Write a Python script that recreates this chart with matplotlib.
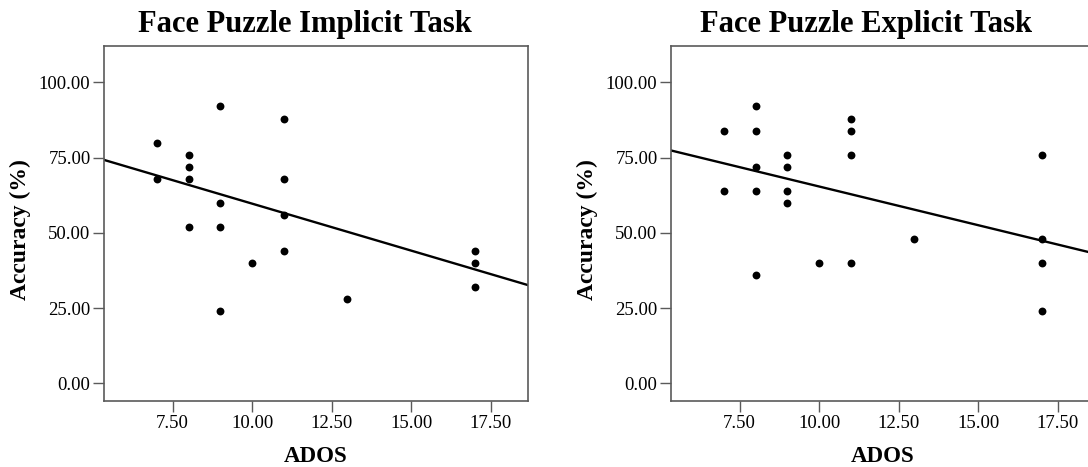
import numpy as np
import matplotlib
matplotlib.use("Agg")
import matplotlib.pyplot as plt

plt.rcParams['font.family'] = ['Liberation Serif', 'DejaVu Serif']

# ADOS score vs accuracy
ados_implicit = [7, 7, 8, 8, 8, 8, 9, 9, 9, 9, 10, 11, 11, 11, 11, 13, 17, 17, 17]
acc_implicit = [80, 68, 76, 72, 68, 52, 92, 60, 52, 24, 40, 88, 68, 56, 44, 28, 44, 40, 32]

ados_explicit = [7, 7, 8, 8, 8, 8, 8, 9, 9, 9, 9, 10, 11, 11, 11, 11, 13, 17, 17, 17, 17]
acc_explicit = [84, 64, 92, 84, 72, 64, 36, 76, 72, 64, 60, 40, 88, 84, 76, 40, 48, 76, 48, 40, 24]

# fit lines (intercept, slope) as drawn in the reference
fit_implicit = (90.9, -3.12)
fit_explicit = (91.1, -2.57)

titles = ["Face Puzzle Implicit Task", "Face Puzzle Explicit Task"]
xticks = [7.5, 10.0, 12.5, 15.0, 17.5]
yticks = [0, 25, 50, 75, 100]

W, H = 1088, 467
fig = plt.figure(figsize=(W / 100, H / 100), dpi=100)

panels = [
    (ados_implicit, acc_implicit, fit_implicit, titles[0], 103.7, 305, 20, 316),
    (ados_explicit, acc_explicit, fit_explicit, titles[1], 670.7, 866, 587.5, 883),
]

spine_col = '#5a5a5a'
xlim = (5.33, 18.67)
ylim = (-5.8, 112.2)

for x, y, fit, title, left_px, title_x, ylab_x, xlab_x in panels:
    ax = fig.add_axes([left_px / W, 1 - 400.7 / H, 424 / W, (400.7 - 45.7) / H])
    ax.scatter(x, y, s=32, color='black', zorder=3, linewidths=0)
    xs = np.array(xlim)
    ax.plot(xs, fit[0] + fit[1] * xs, color='black', lw=1.7, zorder=2)
    ax.set_xlim(*xlim)
    ax.set_ylim(*ylim)
    ax.set_xticks(xticks)
    ax.set_yticks(yticks)
    ax.set_xticklabels(["%.2f" % v for v in xticks])
    ax.set_yticklabels(["%.2f" % v for v in yticks])
    ax.tick_params(length=8, width=1, color=spine_col, labelsize=13.5, pad=1.5)
    ax.tick_params(axis='x', pad=2.5)
    for s in ax.spines.values():
        s.set_color(spine_col)
        s.set_linewidth(1.2)

    fig.text(title_x / W, 1 - 32 / H, title, ha='center', va='baseline',
             fontsize=22, fontweight='bold')
    fig.text(xlab_x / W, 1 - 462 / H, "ADOS", ha='center', va='baseline',
             fontsize=16.5, fontweight='bold')
    fig.text(ylab_x / W, 1 - 230 / H, "Accuracy (%)", ha='center', va='center',
             rotation=90, fontsize=17, fontweight='bold')

fig.savefig("out.png", dpi=100)
